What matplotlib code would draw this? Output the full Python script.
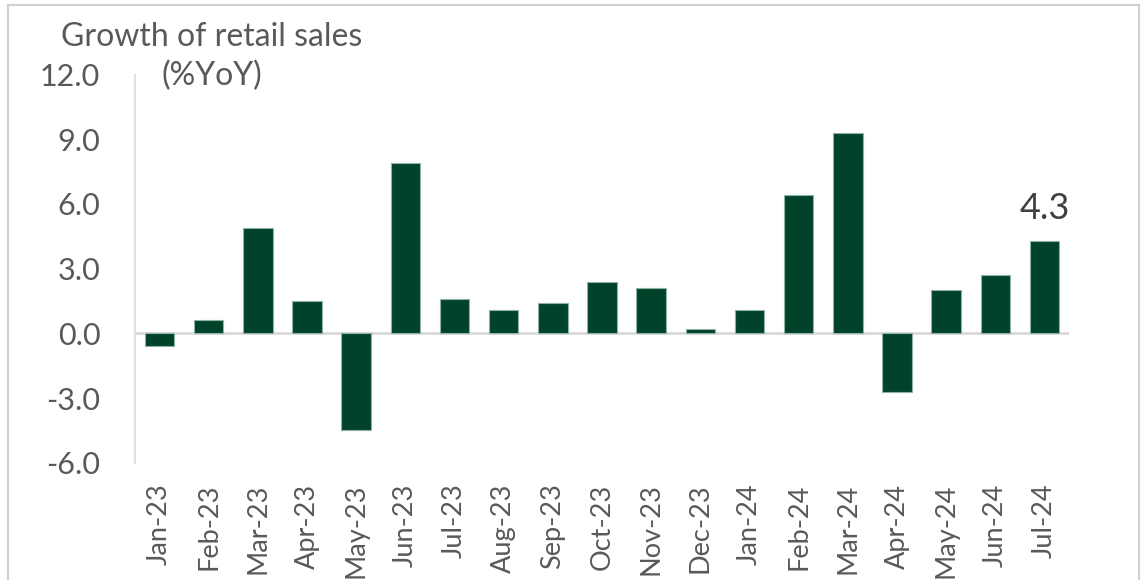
import matplotlib
matplotlib.use("Agg")
import matplotlib.pyplot as plt
from matplotlib.patches import Rectangle

months = ["Jan-23", "Feb-23", "Mar-23", "Apr-23", "May-23", "Jun-23", "Jul-23",
          "Aug-23", "Sep-23", "Oct-23", "Nov-23", "Dec-23", "Jan-24", "Feb-24",
          "Mar-24", "Apr-24", "May-24", "Jun-24", "Jul-24"]
growth = [-0.6, 0.6, 4.9, 1.5, -4.5, 7.9, 1.6, 1.1, 1.4, 2.4, 2.1, 0.2, 1.1,
          6.4, 9.3, -2.7, 2.0, 2.7, 4.3]
yticks = [-6.0, -3.0, 0.0, 3.0, 6.0, 9.0, 12.0]

plt.rcParams['font.family'] = ['Lato', 'DejaVu Sans']

W, H = 1142, 580
fig = plt.figure(figsize=(W / 100, H / 100), dpi=100)
ax = fig.add_axes([135 / W, 1 - 462.7 / H, (1069 - 135) / W, (462.7 - 74.5) / H])

text_col = "#595959"
bar_col = "#00432A"

x = list(range(len(months)))
ax.bar(x, growth, width=0.6, color=bar_col, edgecolor="#8fb3a2", linewidth=0.8, zorder=3)

ax.set_xlim(-0.5, len(months) - 0.5)
ax.set_ylim(-6, 12)
ax.set_yticks(yticks)
ax.set_yticklabels([f"{v:.1f}" for v in yticks])
ax.set_xticks(x)
ax.set_xticklabels(months, rotation=90)

ax.tick_params(axis='y', length=0, pad=25, labelsize=22, labelcolor=text_col)
ax.tick_params(axis='x', length=0, pad=15, labelsize=19.5, labelcolor=text_col)

for side in ("top", "right", "bottom"):
    ax.spines[side].set_visible(False)
ax.spines["left"].set_color("#d9e6df")
ax.spines["left"].set_linewidth(1.5)

ax.axhline(0, color="#d9d9d9", linewidth=2, zorder=2)

# Label on the latest month
last = len(growth) - 1
ax.annotate(f"{growth[last]:.1f}", (last, growth[last]), xytext=(0, 11),
            textcoords="offset points", ha="center", va="bottom",
            fontsize=26, color="#404040")

fig.text(212 / W, 1 - 37 / H, "Growth of retail sales", ha="center", va="center",
         fontsize=23, color=text_col)
fig.text(212 / W, 1 - 76 / H, "(%YoY)", ha="center", va="center",
         fontsize=23, color=text_col)

# Thin frame around the whole chart
fig.patches.append(Rectangle((8 / W, -0.01), (1139 - 8) / W, 1 - 5 / H + 0.01,
                             transform=fig.transFigure, fill=False,
                             edgecolor="#d0d0d0", linewidth=1.5))

fig.savefig("out.png", dpi=100)
